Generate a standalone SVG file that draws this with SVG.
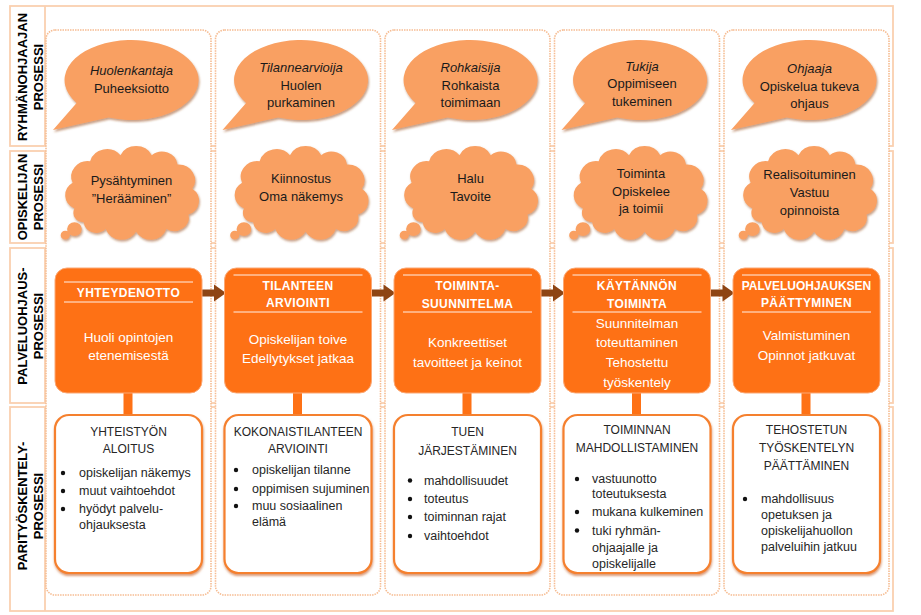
<svg xmlns="http://www.w3.org/2000/svg" xmlns:xlink="http://www.w3.org/1999/xlink" width="921" height="615" viewBox="0 0 921 615">
<style>
text{font-family:"Liberation Sans",Arial,sans-serif}
.band{fill:#fff;stroke:#FAD0B0;stroke-width:1.8}
.panel{fill:#fff;stroke:#F6BC92;stroke-width:1.6;stroke-dasharray:1.5 1}
.lbl{font-size:13px;font-weight:bold;fill:#000;text-anchor:middle}
.bub{fill:#F9A062}
.bt{font-size:13px;fill:#1a1a1a;text-anchor:middle}
.it{font-style:italic}
.mbox{fill:#FE7115;stroke:#FBA874;stroke-width:1}
.hl{stroke:#fff;stroke-width:1;opacity:0.9}
.mh{font-size:12px;font-weight:bold;fill:#fff;text-anchor:middle;letter-spacing:0.4px}
.mt{font-size:13.5px;fill:#fff;text-anchor:middle}
.bbox{fill:#fff;stroke:#F5802F;stroke-width:2.2}
.btt{font-size:12px;fill:#262626;text-anchor:middle}
.bl{font-size:12.5px;fill:#262626}
.dot{fill:#111}
.arr{fill:#8E4514}
.vc{fill:#FE7115}
</style>
<defs>
<filter id="sh" x="-10%" y="-10%" width="125%" height="130%">
<feDropShadow dx="1" dy="2" stdDeviation="1.2" flood-color="#9a4f1d" flood-opacity="0.55"/>
</filter>
<filter id="sh2" x="-10%" y="-10%" width="125%" height="130%">
<feDropShadow dx="0.5" dy="2" stdDeviation="1" flood-color="#c4581a" flood-opacity="0.6"/>
</filter>
<path id="bubble" d="M-22.9,37.6 A67,40 0 1 0 -54.9,22.9 L-78.5,50 Z"/>
<path id="cloud" d="M-62,18 A17,17 0 0 1 -64,-12 A18,18 0 0 1 -45,-37 A19,19 0 0 1 -12,-44 A19,19 0 0 1 22,-44 A17,17 0 0 1 50,-33 A18,18 0 0 1 66,-5 A17,17 0 0 1 62,25 A16,16 0 0 1 38,42 A18,18 0 0 1 5,45 A18,18 0 0 1 -28,42 A14,14 0 0 1 -52,34 A11,11 0 0 1 -62,18 Z M-70,42 a8,8 0 1,0 16,0 a8,8 0 1,0 -16,0 Z M-77,49 a5,5 0 1,0 10,0 a5,5 0 1,0 -10,0 Z"/>
</defs>

<g id="rows">
<rect class="band" x="10" y="6" width="883" height="140"/>
<rect class="band" x="10" y="151" width="883" height="92"/>
<rect class="band" x="10" y="248" width="883" height="155"/>
<rect class="band" x="10" y="407" width="883" height="204"/>
<path d="M45,6V146M45,151V243M45,248V403M45,407V611" stroke="#FAD0B0" stroke-width="1.8" fill="none"/>
</g>

<g id="row-labels">
<g id="label-ryhmanohjaajan"><text class="lbl" transform="translate(26.5,77) rotate(-90)">RYHMÄNOHJAAJAN</text><text class="lbl" transform="translate(42.5,77) rotate(-90)">PROSESSI</text></g>
<g id="label-opiskelijan"><text class="lbl" transform="translate(26.5,197) rotate(-90)">OPISKELIJAN</text><text class="lbl" transform="translate(42.5,197) rotate(-90)">PROSESSI</text></g>
<g id="label-palveluohjaus"><text class="lbl" transform="translate(26.5,326) rotate(-90)">PALVELUOHJAUS-</text><text class="lbl" transform="translate(42.5,326) rotate(-90)">PROSESSI</text></g>
<g id="label-parityoskentely"><text class="lbl" transform="translate(26.5,506) rotate(-90)">PARITYÖSKENTELY-</text><text class="lbl" transform="translate(42.5,506) rotate(-90)">PROSESSI</text></g>
</g>

<g id="panels">
<rect id="panel1" class="panel" x="46" y="30" width="165" height="565" rx="9"/>
<rect id="panel2" class="panel" x="215.5" y="30" width="165" height="565" rx="9"/>
<rect id="panel3" class="panel" x="385" y="30" width="165" height="565" rx="9"/>
<rect id="panel4" class="panel" x="554.5" y="30" width="165" height="565" rx="9"/>
<rect id="panel5" class="panel" x="724" y="30" width="165" height="565" rx="9"/>
</g>

<g id="connectors">
<path class="arr" d="M202,289.5H214V284.5L226,293L214,301.5V296.5H202Z"/>
<path class="arr" d="M371.5,289.5H383.5V284.5L395.5,293L383.5,301.5V296.5H371.5Z"/>
<path class="arr" d="M541,289.5H553V284.5L565,293L553,301.5V296.5H541Z"/>
<path class="arr" d="M710.5,289.5H722.5V284.5L734.5,293L722.5,301.5V296.5H710.5Z"/>
<rect class="vc" x="123.5" y="392" width="9" height="24"/>
<rect class="vc" x="293" y="392" width="9" height="24"/>
<rect class="vc" x="462.5" y="392" width="9" height="24"/>
<rect class="vc" x="632" y="392" width="9" height="24"/>
<rect class="vc" x="801.5" y="392" width="9" height="24"/>
</g>

<g id="bubble1"><use href="#bubble" class="bub" filter="url(#sh)" transform="translate(131.5,80)"/><text class="bt it" x="131.5" y="75">Huolenkantaja</text><text class="bt" x="131.5" y="93">Puheeksiotto</text></g>
<g id="bubble2"><use href="#bubble" class="bub" filter="url(#sh)" transform="translate(301,80)"/><text class="bt it" x="301" y="72">Tilannearvioija</text><text class="bt" x="301" y="89.5">Huolen</text><text class="bt" x="301" y="107">purkaminen</text></g>
<g id="bubble3"><use href="#bubble" class="bub" filter="url(#sh)" transform="translate(470.5,80)"/><text class="bt it" x="470.5" y="72">Rohkaisija</text><text class="bt" x="470.5" y="89.5">Rohkaista</text><text class="bt" x="470.5" y="107">toimimaan</text></g>
<g id="bubble4"><use href="#bubble" class="bub" filter="url(#sh)" transform="translate(640,80)"/><text class="bt it" x="642" y="70.5">Tukija</text><text class="bt" x="642" y="88">Oppimiseen</text><text class="bt" x="642" y="105.5">tukeminen</text></g>
<g id="bubble5"><use href="#bubble" class="bub" filter="url(#sh)" transform="translate(809.5,80)"/><text class="bt it" x="809.5" y="73">Ohjaaja</text><text class="bt" x="809.5" y="90.5">Opiskelua tukeva</text><text class="bt" x="809.5" y="108">ohjaus</text></g>

<g id="cloud1"><use href="#cloud" class="bub" filter="url(#sh)" transform="translate(131.5,193) scale(0.92,0.86)"/><text class="bt" x="131.5" y="185">Pysähtyminen</text><text class="bt" x="131.5" y="203">”Herääminen”</text></g>
<g id="cloud2"><use href="#cloud" class="bub" filter="url(#sh)" transform="translate(301,193) scale(0.92,0.86)"/><text class="bt" x="301" y="183">Kiinnostus</text><text class="bt" x="301" y="200.5">Oma näkemys</text></g>
<g id="cloud3"><use href="#cloud" class="bub" filter="url(#sh)" transform="translate(470.5,193) scale(0.92,0.86)"/><text class="bt" x="470.5" y="183">Halu</text><text class="bt" x="470.5" y="200.5">Tavoite</text></g>
<g id="cloud4"><use href="#cloud" class="bub" filter="url(#sh)" transform="translate(640,193) scale(0.92,0.86)"/><text class="bt" x="641" y="177.5">Toiminta</text><text class="bt" x="641" y="195.5">Opiskelee</text><text class="bt" x="641" y="213">ja toimii</text></g>
<g id="cloud5"><use href="#cloud" class="bub" filter="url(#sh)" transform="translate(809.5,193) scale(0.92,0.86)"/><text class="bt" x="809.5" y="179">Realisoituminen</text><text class="bt" x="809.5" y="197">Vastuu</text><text class="bt" x="809.5" y="215">opinnoista</text></g>

<g id="box-yhteydenotto"><rect class="mbox" x="55" y="268" width="147" height="125" rx="12"/><path class="hl" d="M64,282H193M64,302H193"/><text class="mh" x="128.5" y="297">YHTEYDENOTTO</text><text class="mt" x="128.5" y="342">Huoli opintojen</text><text class="mt" x="128.5" y="359.5">etenemisestä</text></g>
<g id="box-tilanteen-arviointi"><rect class="mbox" x="224.5" y="268" width="147" height="125" rx="12"/><path class="hl" d="M233.5,275H362.5M233.5,312H362.5"/><text class="mh" x="298" y="289.5">TILANTEEN</text><text class="mh" x="298" y="307">ARVIOINTI</text><text class="mt" x="298" y="344">Opiskelijan toive</text><text class="mt" x="298" y="363">Edellytykset jatkaa</text></g>
<g id="box-toimintasuunnitelma"><rect class="mbox" x="394" y="268" width="147" height="125" rx="12"/><path class="hl" d="M403,275H532M403,312H532"/><text class="mh" x="467.5" y="290">TOIMINTA-</text><text class="mh" x="467.5" y="308">SUUNNITELMA</text><text class="mt" x="467.5" y="347">Konkreettiset</text><text class="mt" x="467.5" y="367">tavoitteet ja keinot</text></g>
<g id="box-kaytannon-toiminta"><rect class="mbox" x="563.5" y="268" width="147" height="125" rx="12"/><path class="hl" d="M572.5,275H701.5M572.5,312H701.5"/><text class="mh" x="637" y="290">KÄYTÄNNÖN</text><text class="mh" x="637" y="308">TOIMINTA</text><text class="mt" x="637" y="327.5">Suunnitelman</text><text class="mt" x="637" y="347">toteuttaminen</text><text class="mt" x="637" y="367">Tehostettu</text><text class="mt" x="637" y="386.5">työskentely</text></g>
<g id="box-palveluohjauksen-paattyminen"><rect class="mbox" x="733" y="268" width="147" height="125" rx="12"/><path class="hl" d="M742,275H871M742,312H871"/><text class="mh" x="806.5" y="289.5" style="letter-spacing:0">PALVELUOHJAUKSEN</text><text class="mh" x="806.5" y="307">PÄÄTTYMINEN</text><text class="mt" x="806.5" y="340">Valmistuminen</text><text class="mt" x="806.5" y="359.5">Opinnot jatkuvat</text></g>

<g id="pair-yhteistyon-aloitus"><rect class="bbox" filter="url(#sh2)" x="55" y="415" width="147" height="158" rx="14"/><text class="btt" x="128.5" y="436">YHTEISTYÖN</text><text class="btt" x="128.5" y="452.5">ALOITUS</text>
<circle class="dot" cx="63" cy="473" r="2.2"/><text class="bl" x="79" y="477">opiskelijan näkemys</text>
<circle class="dot" cx="63" cy="491" r="2.2"/><text class="bl" x="79" y="495">muut vaihtoehdot</text>
<circle class="dot" cx="63" cy="509" r="2.2"/><text class="bl" x="79" y="513">hyödyt palvelu-</text><text class="bl" x="79" y="529">ohjauksesta</text></g>
<g id="pair-kokonaistilanteen-arviointi"><rect class="bbox" filter="url(#sh2)" x="224.5" y="415" width="147" height="158" rx="14"/><text class="btt" x="298" y="436">KOKONAISTILANTEEN</text><text class="btt" x="298" y="452.5">ARVIOINTI</text>
<circle class="dot" cx="236" cy="470" r="2.2"/><text class="bl" x="252" y="474">opiskelijan tilanne</text>
<circle class="dot" cx="236" cy="489" r="2.2"/><text class="bl" x="252" y="493">oppimisen sujuminen</text>
<circle class="dot" cx="236" cy="506" r="2.2"/><text class="bl" x="252" y="510">muu sosiaalinen</text><text class="bl" x="252" y="525.5">elämä</text></g>
<g id="pair-tuen-jarjestaminen"><rect class="bbox" filter="url(#sh2)" x="394" y="415" width="147" height="158" rx="14"/><text class="btt" x="467.5" y="435.5">TUEN</text><text class="btt" x="467.5" y="455">JÄRJESTÄMINEN</text>
<circle class="dot" cx="410" cy="480.5" r="2.2"/><text class="bl" x="424" y="484.5">mahdollisuudet</text>
<circle class="dot" cx="410" cy="499" r="2.2"/><text class="bl" x="424" y="503">toteutus</text>
<circle class="dot" cx="410" cy="517" r="2.2"/><text class="bl" x="424" y="521">toiminnan rajat</text>
<circle class="dot" cx="410" cy="536" r="2.2"/><text class="bl" x="424" y="540">vaihtoehdot</text></g>
<g id="pair-toiminnan-mahdollistaminen"><rect class="bbox" filter="url(#sh2)" x="563.5" y="415" width="147" height="158" rx="14"/><text class="btt" x="637" y="433.5">TOIMINNAN</text><text class="btt" x="637" y="452">MAHDOLLISTAMINEN</text>
<circle class="dot" cx="577" cy="479" r="2.2"/><text class="bl" x="592" y="483">vastuunotto</text><text class="bl" x="592" y="498">toteutuksesta</text>
<circle class="dot" cx="577" cy="512" r="2.2"/><text class="bl" x="592" y="516">mukana kulkeminen</text>
<circle class="dot" cx="577" cy="530.5" r="2.2"/><text class="bl" x="592" y="534.5">tuki ryhmän-</text><text class="bl" x="592" y="551.5">ohjaajalle ja</text><text class="bl" x="592" y="567.5">opiskelijalle</text></g>
<g id="pair-tehostetun-tyoskentelyn-paattaminen"><rect class="bbox" filter="url(#sh2)" x="733" y="415" width="147" height="158" rx="14"/><text class="btt" x="806.5" y="433.5">TEHOSTETUN</text><text class="btt" x="806.5" y="452">TYÖSKENTELYN</text><text class="btt" x="806.5" y="470">PÄÄTTÄMINEN</text>
<circle class="dot" cx="745" cy="499" r="2.2"/><text class="bl" x="761" y="503">mahdollisuus</text><text class="bl" x="761" y="519">opetuksen ja</text><text class="bl" x="761" y="534.5">opiskelijahuollon</text><text class="bl" x="761" y="550.5">palveluihin jatkuu</text></g>
</svg>
